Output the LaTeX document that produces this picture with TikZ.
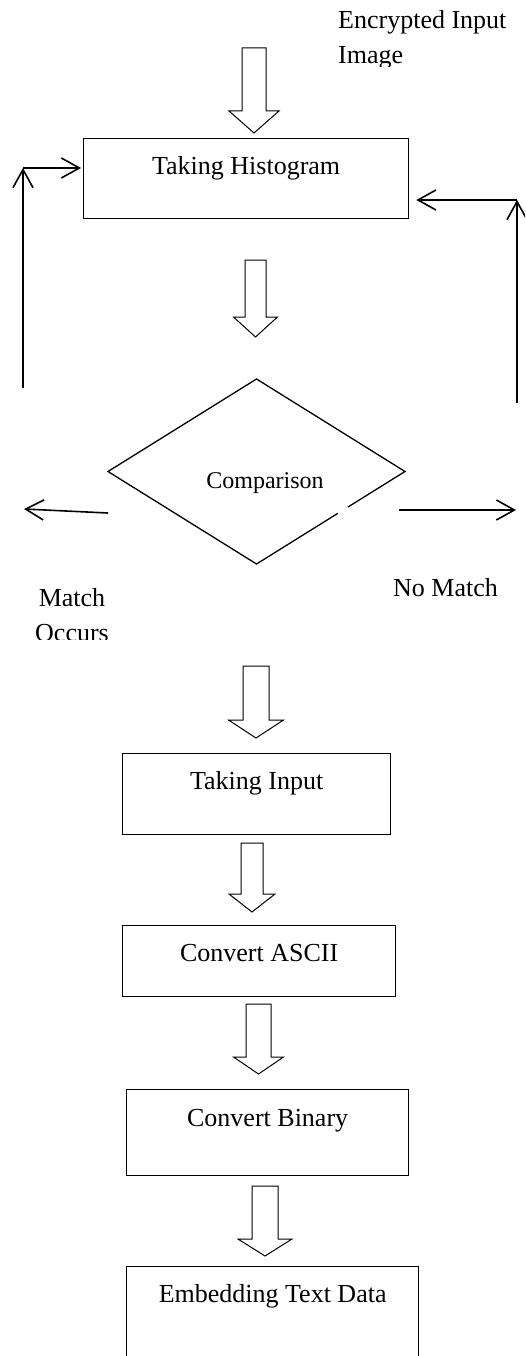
\documentclass[tikz,border=0pt]{standalone}
\usepackage{fontspec}
\setmainfont{Liberation Serif}
\usetikzlibrary{arrows.meta,shapes.geometric,calc}

\begin{document}
\begin{tikzpicture}[x=1pt,y=-1pt,
		procbox/.style={draw, line width=1.3pt, anchor=north west, inner sep=0pt, text height=36pt, font=\fontsize{26}{35}\selectfont},
		hollowarrow/.style={draw, line width=1pt, line join=miter},
		feedline/.style={line width=1.6pt, -{Straight Barb[length=18pt,width=20pt]}},
		flowtext/.style={inner sep=0pt, font=\fontsize{26}{35}\selectfont}]
			% Rahmen festlegen
			\useasboundingbox (0,0) rectangle (525,1356);
			\clip (0,0) rectangle (525,1356);
			
			% Kaesten zeichnen
			\node[procbox, minimum width=325pt, text depth=44pt] (hist) at (83,138) {Taking Histogram};
			\node[procbox, minimum width=268pt, text depth=45pt] (input) at (122,753) {Taking Input};
			\node[procbox, minimum width=273pt, text depth=35pt] (ascii) at (122,925) {Convert ASCII};
			\node[procbox, minimum width=282pt, text height=37pt, text depth=49pt] (binary) at (126,1089) {Convert Binary};
			\node[procbox, minimum width=292pt, text depth=80pt] (embed) at (126,1266) {Embedding Text Data};
			
			% Raute zeichnen
			\node[diamond, minimum width=297pt, minimum height=185pt, inner sep=0pt, outer sep=0pt] (cmp) at (256.5,471.5) {};
			\node[flowtext, font=\fontsize{24}{29}\selectfont, anchor=base] (cmptext) at (265,488) {Comparison};
			\draw[line width=1.3pt] ($(cmp.east)!0.385!(cmp.south)$) -- (cmp.east) -- (cmp.north) -- (cmp.west) -- (cmp.south) -- ($(cmp.east)!0.453!(cmp.south)$);
			
			% Blockpfeile zeichnen
			\foreach \cx/\sw/\ya/\yb/\hw/\yc in {254/12/48/111/25/133, 255.5/10.5/260/317/22/337, 256/13/666/720/27.5/738, 252/11/843/894/23/912, 258.5/12.5/1004/1057/25/1074, 265/13/1186/1239/27/1256}
				\draw[hollowarrow] (\cx-\sw,\ya) -- (\cx+\sw,\ya) -- (\cx+\sw,\yb) -- (\cx+\hw,\yb) -- (\cx,\yc) -- (\cx-\hw,\yb) -- (\cx-\sw,\yb) -- cycle;
			
			% Rueckfuehrungen
			\coordinate (lbot) at (23,388);
			\coordinate (ltop) at (23,168);
			\draw[feedline] (lbot) -- (ltop);
			\draw[feedline, shorten >=2pt] (ltop) -- (ltop -| hist.west);
			\coordinate (rbot) at (517,403);
			\coordinate (rtop) at (517,200);
			\draw[feedline] (rbot) -- (rtop);
			\draw[feedline, shorten >=7pt] (rtop) -- (rtop -| hist.east);
			
			% Ausgaenge der Raute
			\coordinate (mstart) at (108,513);
			\coordinate (mend) at (24,509);
			\draw[feedline] (mstart) -- (mend);
			\coordinate (nstart) at (399,510);
			\coordinate (nend) at (516,510);
			\draw[feedline] (nstart) -- (nend);
			
			% Beschriftungen eintragen
			\begin{scope}
				\clip (300,0) rectangle (525,67);
				\node[flowtext, align=left, anchor=north west] (inlabel) at (338,10) {Encrypted Input\\Image};
			\end{scope}
			\begin{scope}
				\clip (0,560) rectangle (140,639);
				\node[flowtext, align=center, anchor=north] (matchlabel) at (72,588) {Match\\Occurs};
			\end{scope}
			\node[flowtext, anchor=base west] (nomatch) at (393,596) {No Match};
	\end{tikzpicture}
\end{document}
